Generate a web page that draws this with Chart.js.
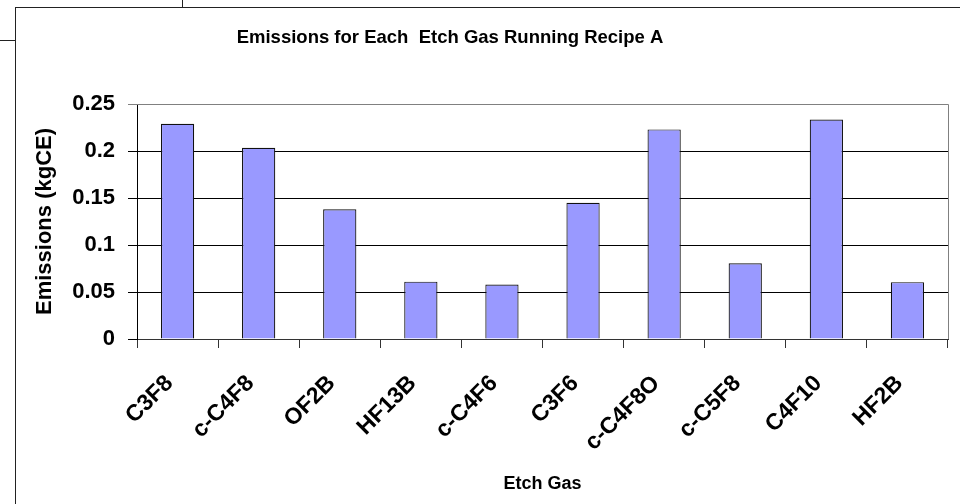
<!DOCTYPE html>
<html>
<head>
<meta charset="utf-8">
<script src="https://cdn.jsdelivr.net/npm/chart.js@4"></script>
<style>
  html, body { margin: 0; padding: 0; background: #fff; }
  #wrap { position: relative; width: 960px; height: 504px; overflow: hidden; }
  #frame { position: absolute; left: 15px; top: 7px; width: 960px; height: 520px;
           border-top: 1px solid #222; border-left: 1px solid #222; }
  .stub { position: absolute; background: #222; }
  canvas { position: absolute; left: 0; top: 0; }
</style>
</head>
<body>
<div id="wrap">
  <div class="stub" style="left:0;top:40px;width:15px;height:1px"></div>
  <div class="stub" style="left:182px;top:0;width:1px;height:7px"></div>
  <div id="frame"></div>
  <canvas id="chart" width="960" height="504"></canvas>
</div>
<script>
const gases = ['C3F8', 'c-C4F8', 'OF2B', 'HF13B', 'c-C4F6', 'C3F6', 'c-C4F8O', 'c-C5F8', 'C4F10', 'HF2B'];
const emissions = [0.229, 0.2035, 0.138, 0.061, 0.058, 0.145, 0.223, 0.0805, 0.2335, 0.0605];
const yTicks = [0, 0.05, 0.1, 0.15, 0.2, 0.25];
const yTickLabels = ['0', '0.05', '0.1', '0.15', '0.2', '0.25'];

const chartTitle = 'Emissions for Each  Etch Gas Running Recipe A';
const FONT = "'Liberation Sans', Arial, sans-serif";

// gray plot-area box plus the free-standing title
const plotFrame = {
  id: 'plotFrame',
  afterDraw(chart) {
    const { ctx, chartArea: a } = chart;
    ctx.save();
    ctx.strokeStyle = '#808080';
    ctx.lineWidth = 1;
    ctx.beginPath();
    ctx.moveTo(a.left, a.top + 0.5);
    ctx.lineTo(a.right + 0.5, a.top + 0.5);
    ctx.lineTo(a.right + 0.5, a.bottom);
    ctx.stroke();
    ctx.fillStyle = '#000';
    ctx.font = `bold 18.5px ${FONT}`;
    ctx.textAlign = 'center';
    ctx.textBaseline = 'middle';
    ctx.fillText(chartTitle, 450, 38);
    ctx.restore();
  }
};

new Chart(document.getElementById('chart').getContext('2d'), {
  type: 'bar',
  data: {
    labels: gases,
    datasets: [{
      label: 'Emissions',
      data: emissions,
      backgroundColor: '#9999ff',
      borderColor: '#111',
      borderWidth: 1.2,
      categoryPercentage: 1,
      barPercentage: 0.41
    }]
  },
  options: {
    responsive: false,
    animation: false,
    layout: { padding: { top: 104, left: 20, right: 12, bottom: 0 } },
    plugins: { legend: { display: false }, tooltip: { enabled: false }, title: { display: false } },
    scales: {
      x: {
        afterFit(scale) { scale.height = 165; },
        grid: { drawOnChartArea: false, tickLength: 9, color: '#333', offset: true },
        border: { color: '#333', width: 1 },
        ticks: {
          minRotation: 45, maxRotation: 45, padding: 22, labelOffset: -8,
          color: '#000', font: { family: FONT, size: 23, weight: 'bold' }
        },
        title: {
          display: true, text: 'Etch Gas', color: '#000',
          font: { family: FONT, size: 18, weight: 'bold' },
          padding: { top: 0, bottom: 9 }
        }
      },
      y: {
        min: 0, max: 0.25,
        afterFit(scale) { scale.width = 117; },
        afterBuildTicks(scale) { scale.ticks = yTicks.map(v => ({ value: v })); },
        grid: {
          tickLength: 9,
          color: c => (c.tick && c.tick.value === 0.25 ? '#808080' : '#000'),
          lineWidth: 1
        },
        border: { color: '#000', width: 1 },
        ticks: {
          padding: 13, color: '#000',
          font: { family: FONT, size: 22, weight: 'bold' },
          callback: (v, i) => yTickLabels[i]
        },
        title: {
          display: true, text: 'Emissions (kgCE)', color: '#000',
          font: { family: FONT, size: 22, weight: 'bold' },
          padding: { top: 12, bottom: 0 }
        }
      }
    }
  },
  plugins: [plotFrame]
});
</script>
</body>
</html>
